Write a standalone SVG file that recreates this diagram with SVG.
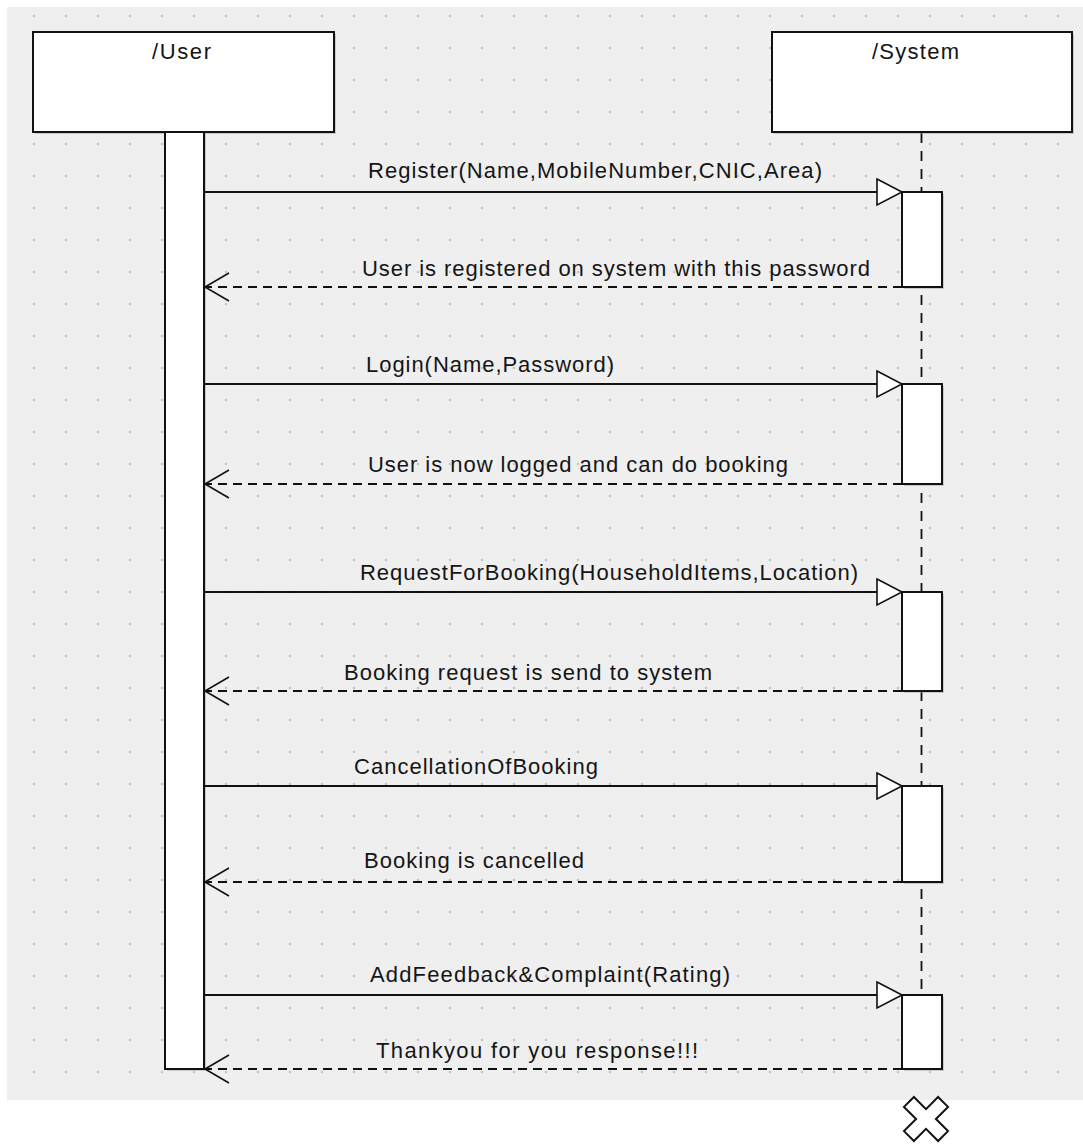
<svg xmlns="http://www.w3.org/2000/svg" width="1083" height="1145" viewBox="0 0 1083 1145">
  <defs>
    <pattern id="grid" patternUnits="userSpaceOnUse" x="18" y="0" width="32" height="32">
      <circle cx="16" cy="16" r="1.3" fill="#c6c6c6"/>
    </pattern>
    <style>
      .box { fill: #ffffff; stroke: #111111; stroke-width: 2; }
      .shadow { fill: #9c9c9c; opacity: 0.45; }
      .label { font-family: "Liberation Sans", Arial, sans-serif; font-size: 22px; fill: #151515; }
      .title { font-family: "Liberation Sans", Arial, sans-serif; font-size: 22px; fill: #151515; text-anchor: start; }
      .call { stroke: #111111; stroke-width: 1.8; fill: none; }
      .reply { stroke: #111111; stroke-width: 1.8; fill: none; stroke-dasharray: 9 6; }
      .lifeline { stroke: #111111; stroke-width: 1.8; fill: none; stroke-dasharray: 10 8; }
      .tri { fill: #ffffff; stroke: #111111; stroke-width: 1.6; }
      .open { fill: none; stroke: #111111; stroke-width: 1.6; }
    </style>
  </defs>

  <!-- canvas -->
  <rect x="0" y="0" width="1083" height="1145" fill="#ffffff"/>
  <rect x="7" y="7" width="1076" height="1093" fill="#efefef"/>
  <rect x="7" y="7" width="1076" height="1093" fill="url(#grid)"/>

  <!-- system lifeline -->
  <line class="lifeline" x1="921.5" y1="133" x2="921.5" y2="1069"/>

  <!-- User participant -->
  <g id="user">
    <rect class="shadow" x="35" y="34" width="301" height="100"/>
    <rect class="box" x="33" y="32" width="301" height="100"/>
    <text class="title" x="152" y="59" textLength="59" lengthAdjust="spacing">/User</text>
    <rect class="shadow" x="167" y="134" width="39" height="937"/>
    <rect class="box" x="165" y="132" width="39" height="937"/>
  </g>

  <!-- System participant -->
  <g id="system">
    <rect class="shadow" x="774" y="34" width="300" height="100"/>
    <rect class="box" x="772" y="32" width="300" height="100"/>
    <text class="title" x="872" y="59" textLength="87" lengthAdjust="spacing">/System</text>
  </g>

  <!-- System activations -->
  <g id="activation-register">
    <rect class="shadow" x="904" y="194" width="40" height="95"/>
    <rect class="box" x="902" y="192" width="40" height="95"/>
  </g>
  <g id="activation-login">
    <rect class="shadow" x="904" y="386" width="40" height="100"/>
    <rect class="box" x="902" y="384" width="40" height="100"/>
  </g>
  <g id="activation-request">
    <rect class="shadow" x="904" y="594" width="40" height="99"/>
    <rect class="box" x="902" y="592" width="40" height="99"/>
  </g>
  <g id="activation-cancel">
    <rect class="shadow" x="904" y="788" width="40" height="96"/>
    <rect class="box" x="902" y="786" width="40" height="96"/>
  </g>
  <g id="activation-feedback">
    <rect class="shadow" x="904" y="997" width="40" height="74"/>
    <rect class="box" x="902" y="995" width="40" height="74"/>
  </g>

  <!-- destruction mark -->
  <g id="destroy">
    <polygon points="926,1109.1 938.1,1097 948,1106.9 935.9,1119 948,1131.1 938.1,1141 926,1128.9 913.9,1141 904,1131.1 916.1,1119 904,1106.9 913.9,1097"
             fill="#ffffff" stroke="#111111" stroke-width="2" stroke-linejoin="miter"/>
  </g>

  <!-- messages -->
  <g id="connectors">
    <line class="call" x1="204" y1="192" x2="878" y2="192"/>
    <polygon class="tri" points="877,179 902,192 877,205"/>
    <text class="label" x="368" y="178" textLength="454" lengthAdjust="spacing">Register(Name,MobileNumber,CNIC,Area)</text>

    <line class="reply" x1="902" y1="287" x2="205" y2="287"/>
    <polyline class="open" points="229,273 205,287 229,301"/>
    <text class="label" x="362" y="276" textLength="508" lengthAdjust="spacing">User is registered on system with this password</text>

    <line class="call" x1="204" y1="384" x2="878" y2="384"/>
    <polygon class="tri" points="877,371 902,384 877,397"/>
    <text class="label" x="366" y="372" textLength="248" lengthAdjust="spacing">Login(Name,Password)</text>

    <line class="reply" x1="902" y1="484" x2="205" y2="484"/>
    <polyline class="open" points="229,470 205,484 229,498"/>
    <text class="label" x="368" y="472" textLength="420" lengthAdjust="spacing">User is now logged and can do booking</text>

    <line class="call" x1="204" y1="592" x2="878" y2="592"/>
    <polygon class="tri" points="877,579 902,592 877,605"/>
    <text class="label" x="360" y="580" textLength="498" lengthAdjust="spacing">RequestForBooking(HouseholdItems,Location)</text>

    <line class="reply" x1="902" y1="691" x2="205" y2="691"/>
    <polyline class="open" points="229,677 205,691 229,705"/>
    <text class="label" x="344" y="680" textLength="368" lengthAdjust="spacing">Booking request is send to system</text>

    <line class="call" x1="204" y1="786" x2="878" y2="786"/>
    <polygon class="tri" points="877,773 902,786 877,799"/>
    <text class="label" x="354" y="774" textLength="244" lengthAdjust="spacing">CancellationOfBooking</text>

    <line class="reply" x1="902" y1="882" x2="205" y2="882"/>
    <polyline class="open" points="229,868 205,882 229,896"/>
    <text class="label" x="364" y="868" textLength="220" lengthAdjust="spacing">Booking is cancelled</text>

    <line class="call" x1="204" y1="995" x2="878" y2="995"/>
    <polygon class="tri" points="877,982 902,995 877,1008"/>
    <text class="label" x="370" y="982" textLength="360" lengthAdjust="spacing">AddFeedback&amp;Complaint(Rating)</text>

    <line class="reply" x1="902" y1="1069" x2="205" y2="1069"/>
    <polyline class="open" points="229,1055 205,1069 229,1083"/>
    <text class="label" x="376" y="1058" textLength="322" lengthAdjust="spacing">Thankyou for you response!!!</text>
  </g>
</svg>
